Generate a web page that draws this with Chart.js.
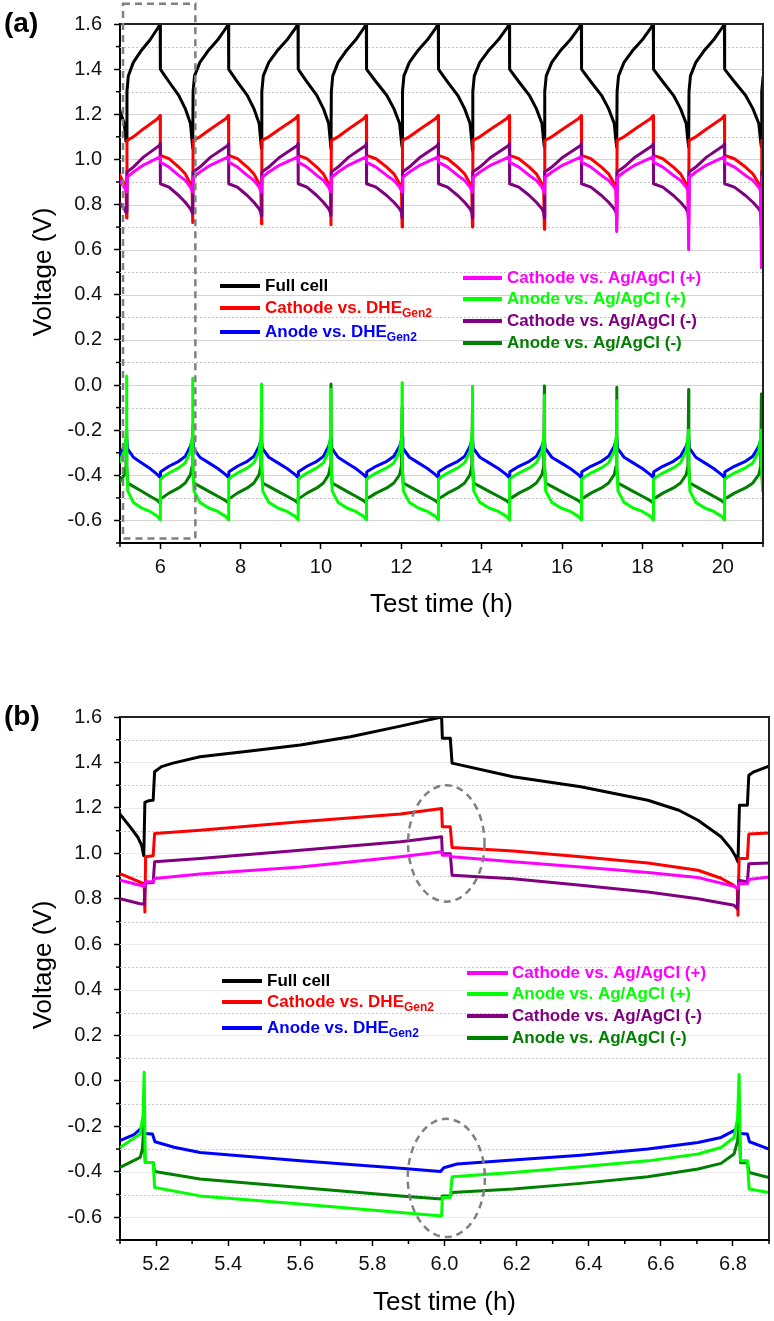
<!DOCTYPE html>
<html>
<head>
<meta charset="utf-8">
<script src="https://cdn.jsdelivr.net/npm/chart.js@4.4.0/dist/chart.umd.min.js"></script>
<style>
  html, body { margin: 0; padding: 0; background: #fff; }
  .panel { position: relative; width: 774px; }
  #wrapA { height: 640px; }
  #wrapB { height: 681px; }
</style>
</head>
<body>
<div class="panel" id="wrapA"><canvas id="chartA" width="774" height="640"></canvas></div>
<div class="panel" id="wrapB"><canvas id="chartB" width="774" height="681"></canvas></div>
<script>
const FONT = '"Liberation Sans", Arial, sans-serif';

const seriesNames = ['Full cell', 'Cathode vs. DHE', 'Anode vs. DHE', 'Cathode vs. Ag/AgCl (+)',
  'Anode vs. Ag/AgCl (+)', 'Cathode vs. Ag/AgCl (-)', 'Anode vs. Ag/AgCl (-)'];
const seriesSub = ['', 'Gen2', 'Gen2', '', '', '', ''];
const seriesColors = ['#000000', '#ff0000', '#0000ff', '#ff00ff', '#00ff00', '#800080', '#008000'];
const drawOrder = [7, 5, 6, 3, 1, 4, 2]; // light green drawn on top

// tick labels
const yTicks = [-0.6, -0.4, -0.2, 0.0, 0.2, 0.4, 0.6, 0.8, 1.0, 1.2, 1.4, 1.6];
const xTicksA = [6, 8, 10, 12, 14, 16, 18, 20];
const xTicksB = [5.2, 5.4, 5.6, 5.8, 6.0, 6.2, 6.4, 6.6, 6.8];

// ---- panel (a): cycling, read per cycle ----
// start of each discharge (h), first one is before the axis, last one after it
const dischargeStart = [4.35, 6.0, 7.7, 9.43, 11.13, 12.92, 14.69, 16.48, 18.27, 20.04, 21.85];
// start of each charge (h)
const chargeStart = [5.165, 6.81, 8.52, 10.25, 12.02, 13.77, 15.56, 17.36, 19.15, 20.96];

// shape of one charge / discharge: [fraction of step, V]
const fullCharge = [[0.01, 1.30], [0.05, 1.37], [0.2, 1.43], [0.45, 1.485], [0.7, 1.53], [0.92, 1.58], [1, 1.6]];
const fullDis = [[0.006, 1.40], [0.05, 1.39], [0.27, 1.344], [0.57, 1.284], [0.77, 1.225], [0.93, 1.159], [0.98, 1.08]];
const fullTurn = [1.08, 1.05, 1.048, 1.048, 1.055, 1.04, 1.055, 1.055, 1.055, 1.055];

const redCharge = [[0.01, 1.084], [0.2, 1.10], [0.5, 1.135], [0.92, 1.18], [1, 1.195]];
const redDis = [[0.006, 1.018], [0.27, 1.003], [0.57, 0.966], [0.77, 0.936], [0.93, 0.892], [0.98, 0.877]];
const redTurn = [0.74, 0.72, 0.715, 0.71, 0.70, 0.70, 0.69, 0.69, 0.69, 0.69];

const blueCharge = [[0.02, -0.28], [0.2, -0.32], [0.45, -0.345], [0.7, -0.37], [0.92, -0.397], [1, -0.41]];
const blueDis = [[0.01, -0.385], [0.06, -0.38], [0.27, -0.36], [0.57, -0.338], [0.77, -0.316], [0.93, -0.271], [0.98, -0.245]];
const blueTurn = [-0.235, -0.235, -0.235, -0.235, -0.23, -0.23, -0.23, -0.23, -0.23, -0.23];

const pinkCharge = [[0.02, 0.921], [0.2, 0.944], [0.5, 0.975], [0.98, 1.01], [1, 1.01]];
const pinkDis = [[0.006, 0.988], [0.27, 0.966], [0.57, 0.929], [0.77, 0.907], [0.93, 0.877], [0.98, 0.86]];
const pinkTurn = [0.855, 0.855, 0.855, 0.855, 0.855, 0.855, 0.85, 0.68, 0.60, 0.52];

const lgCharge = [[0.005, -0.36], [0.035, -0.47], [0.2, -0.52], [0.45, -0.545], [0.7, -0.56], [0.92, -0.582], [1, -0.597]];
const lgDis = [[0.005, -0.42], [0.06, -0.41], [0.27, -0.39], [0.57, -0.367], [0.77, -0.345], [0.93, -0.293], [0.98, -0.234], [0.995, -0.2]];
const lgTurn = [0.04, 0.03, 0.005, -0.02, 0.01, -0.005, -0.045, -0.07, -0.20, -0.24];

const purpleCharge = [[0.01, 0.944], [0.2, 0.966], [0.5, 1.01], [0.98, 1.062], [1, 1.07]];
const purpleDis = [[0.006, 0.892], [0.27, 0.877], [0.57, 0.84], [0.77, 0.81], [0.93, 0.781], [0.98, 0.765]];
const purpleTurn = [0.77, 0.76, 0.75, 0.75, 0.74, 0.74, 0.74, 0.74, 0.73, 0.70];

const dgCharge = [[0.005, -0.36], [0.03, -0.434], [0.2, -0.449], [0.45, -0.471], [0.7, -0.493], [0.92, -0.512], [1, -0.523]];
const dgDis = [[0.005, -0.501], [0.06, -0.5], [0.27, -0.479], [0.57, -0.456], [0.77, -0.434], [0.93, -0.397], [0.98, -0.36]];
const dgTurn = [-0.2, -0.18, -0.15, 0.005, -0.1, -0.1, -0.004, -0.01, -0.02, -0.04];

// ---- panel (b): one cycle, [h, V] ----
const fullB = [[5.100, 1.173], [5.128, 1.117], [5.150, 1.070], [5.160, 1.035], [5.166, 0.990], [5.169, 1.225], [5.180, 1.232],
  [5.192, 1.234], [5.196, 1.359], [5.215, 1.382], [5.247, 1.397], [5.322, 1.425], [5.461, 1.450], [5.600, 1.477], [5.739, 1.513],
  [5.878, 1.560], [5.992, 1.600], [5.994, 1.507], [6.016, 1.507], [6.021, 1.397], [6.190, 1.337], [6.378, 1.293], [6.564, 1.234],
  [6.650, 1.190], [6.703, 1.146], [6.767, 1.073], [6.795, 1.020], [6.808, 0.985], [6.814, 0.963], [6.818, 1.212], [6.840, 1.212],
  [6.844, 1.344], [6.858, 1.359], [6.900, 1.384]];
const redB = [[5.100, 0.911], [5.156, 0.874], [5.167, 0.866], [5.169, 0.742], [5.171, 0.985], [5.192, 0.990], [5.196, 1.088],
  [5.322, 1.102], [5.600, 1.139], [5.878, 1.173], [5.992, 1.198], [5.994, 1.117], [6.016, 1.117], [6.021, 1.026], [6.190, 1.011],
  [6.378, 0.985], [6.564, 0.958], [6.703, 0.926], [6.767, 0.891], [6.800, 0.862], [6.812, 0.847], [6.814, 0.728], [6.817, 0.978],
  [6.840, 0.978], [6.844, 1.085], [6.900, 1.090]];
const blueB = [[5.100, -0.263], [5.140, -0.235], [5.156, -0.212], [5.164, -0.200], [5.168, -0.232], [5.190, -0.234],
  [5.197, -0.268], [5.250, -0.292], [5.322, -0.315], [5.600, -0.352], [5.878, -0.384], [5.989, -0.399], [5.998, -0.382],
  [6.035, -0.366], [6.190, -0.348], [6.378, -0.327], [6.564, -0.300], [6.703, -0.271], [6.767, -0.249], [6.803, -0.219],
  [6.814, -0.202], [6.820, -0.232], [6.840, -0.234], [6.846, -0.268], [6.900, -0.300]];
const pinkB = [[5.100, 0.882], [5.156, 0.860], [5.167, 0.855], [5.171, 0.875], [5.192, 0.875], [5.196, 0.890], [5.322, 0.910],
  [5.600, 0.940], [5.878, 0.985], [5.992, 1.007], [5.994, 0.992], [6.016, 0.992], [6.021, 0.985], [6.190, 0.963], [6.378, 0.940],
  [6.564, 0.916], [6.703, 0.894], [6.803, 0.855], [6.814, 0.845], [6.817, 0.867], [6.840, 0.867], [6.844, 0.885], [6.900, 0.896]];
const lgB = [[5.100, -0.293], [5.156, -0.234], [5.164, -0.150], [5.167, 0.038], [5.170, -0.359], [5.192, -0.359], [5.196, -0.469],
  [5.322, -0.506], [5.600, -0.542], [5.878, -0.579], [5.992, -0.594], [5.994, -0.513], [6.016, -0.513], [6.021, -0.422],
  [6.190, -0.403], [6.378, -0.378], [6.564, -0.352], [6.703, -0.322], [6.767, -0.293], [6.803, -0.249], [6.813, -0.161],
  [6.817, 0.028], [6.821, -0.352], [6.840, -0.352], [6.845, -0.476], [6.900, -0.491]];
const purpleB = [[5.100, 0.801], [5.156, 0.779], [5.167, 0.778], [5.170, 0.870], [5.192, 0.872], [5.196, 0.963], [5.322, 0.978],
  [5.600, 1.014], [5.878, 1.051], [5.992, 1.073], [5.994, 0.999], [6.016, 0.999], [6.021, 0.904], [6.190, 0.889], [6.378, 0.860],
  [6.564, 0.830], [6.703, 0.801], [6.803, 0.772], [6.812, 0.757], [6.816, 0.882], [6.840, 0.875], [6.844, 0.955], [6.900, 0.958]];
const dgB = [[5.100, -0.381], [5.156, -0.337], [5.162, -0.300], [5.166, -0.205], [5.170, -0.359], [5.192, -0.359], [5.196, -0.399],
  [5.322, -0.432], [5.600, -0.469], [5.878, -0.506], [5.992, -0.520], [5.994, -0.506], [6.016, -0.506], [6.021, -0.491],
  [6.190, -0.476], [6.378, -0.451], [6.564, -0.422], [6.703, -0.388], [6.767, -0.363], [6.803, -0.322], [6.813, -0.263],
  [6.817, -0.175], [6.821, -0.360], [6.840, -0.360], [6.845, -0.403], [6.900, -0.425]];

// marked regions
const zoomBox = { x0: 5.075, x1: 6.875, y0: -0.68, y1: 1.69 };
const ovals = [{ t: 6.005, v: 1.044, rt: 0.106, rv: 0.256 }, { t: 6.005, v: -0.427, rt: 0.107, rv: 0.26 }];

function cycles(charge, dis, turn) {
  const pts = [];
  for (let k = 0; k < chargeStart.length; k++) {
    const ds = dischargeStart[k], cs = chargeStart[k], ce = dischargeStart[k + 1];
    dis.forEach(([f, v]) => pts.push({ x: ds + f * (cs - ds), y: v }));
    pts.push({ x: cs, y: turn[k] });
    charge.forEach(([f, v]) => pts.push({ x: cs + f * (ce - cs), y: v }));
  }
  return pts;
}
const pairs = arr => arr.map(([x, y]) => ({ x, y }));

const dataA = [
  cycles(fullCharge, fullDis, fullTurn), cycles(redCharge, redDis, redTurn), cycles(blueCharge, blueDis, blueTurn),
  cycles(pinkCharge, pinkDis, pinkTurn), cycles(lgCharge, lgDis, lgTurn), cycles(purpleCharge, purpleDis, purpleTurn),
  cycles(dgCharge, dgDis, dgTurn)];
const dataB = [fullB, redB, blueB, pinkB, lgB, purpleB, dgB].map(pairs);

function legendBlock(ctx, idx, x0, x1, tx, rows) {
  idx.forEach((s, i) => {
    const y = rows[i];
    ctx.strokeStyle = seriesColors[s];
    ctx.lineWidth = 4;
    ctx.setLineDash([]);
    ctx.beginPath(); ctx.moveTo(x0, y); ctx.lineTo(x1, y); ctx.stroke();
    ctx.fillStyle = seriesColors[s];
    ctx.font = 'bold 17px ' + FONT;
    ctx.textBaseline = 'middle';
    ctx.textAlign = 'left';
    ctx.fillText(seriesNames[s], tx, y);
    if (seriesSub[s]) {
      const w = ctx.measureText(seriesNames[s]).width;
      ctx.font = 'bold 12px ' + FONT;
      ctx.fillText(seriesSub[s], tx + w, y + 6);
    }
  });
}

const framePlugin = {
  id: 'frame',
  beforeDatasetsDraw(chart, args, o) {
    const { ctx, chartArea: a, scales: { y } } = chart;
    ctx.save();
    for (let i = -6; i < 16; i++) {
      const py = Math.round(y.getPixelForValue(i / 10)) + 0.5;
      const major = i % 2 === 0;
      ctx.strokeStyle = major ? o.majorGrid : o.minorGrid;
      ctx.lineWidth = 1;
      ctx.setLineDash(major ? [] : [2, 2]);
      ctx.beginPath(); ctx.moveTo(a.left, py); ctx.lineTo(a.right, py); ctx.stroke();
    }
    ctx.restore();
  },
  afterDraw(chart, args, o) {
    const { ctx, chartArea: a, scales: { x, y } } = chart;
    ctx.save();
    // top / right frame
    ctx.strokeStyle = '#222';
    ctx.lineWidth = 2;
    ctx.beginPath();
    ctx.moveTo(a.left, a.top); ctx.lineTo(a.right, a.top); ctx.lineTo(a.right, a.bottom);
    ctx.stroke();
    // minor ticks
    ctx.strokeStyle = '#000';
    ctx.lineWidth = 1.5;
    for (let i = -7; i < 16; i += 2) {
      const py = y.getPixelForValue(i / 10);
      ctx.beginPath(); ctx.moveTo(a.left, py); ctx.lineTo(a.left - 4, py); ctx.stroke();
    }
    for (let i = 0; i < o.xMinorCount; i++) {
      const px = x.getPixelForValue(o.xMinorStart + i * o.xMinorStep);
      ctx.beginPath(); ctx.moveTo(px, a.bottom); ctx.lineTo(px, a.bottom + 4); ctx.stroke();
    }
    // marks
    ctx.strokeStyle = '#808080';
    ctx.lineWidth = 2.5;
    ctx.setLineDash([7, 5]);
    if (o.box) {
      const b = o.box;
      const l = x.getPixelForValue(b.x0), r = x.getPixelForValue(b.x1);
      const t = y.getPixelForValue(b.y1), btm = y.getPixelForValue(b.y0);
      ctx.strokeRect(l, t, r - l, btm - t);
    }
    (o.ovals || []).forEach(e => {
      const cx = x.getPixelForValue(e.t), cy = y.getPixelForValue(e.v);
      const rx = Math.abs(x.getPixelForValue(e.t + e.rt) - cx);
      const ry = Math.abs(y.getPixelForValue(e.v + e.rv) - cy);
      ctx.beginPath(); ctx.ellipse(cx, cy, rx, ry, 0, 0, Math.PI * 2); ctx.stroke();
    });
    ctx.setLineDash([]);
    // legend
    const L = o.legend;
    legendBlock(ctx, [0, 1, 2], L.lx0, L.lx1, L.ltx, L.lrows);
    legendBlock(ctx, [3, 4, 5, 6], L.rx0, L.rx1, L.rtx, L.rrows);
    // titles
    ctx.fillStyle = '#000';
    ctx.font = '26px ' + FONT;
    ctx.textAlign = 'center';
    ctx.textBaseline = 'middle';
    ctx.fillText('Test time (h)', (a.left + a.right) / 2, o.xTitleY);
    ctx.save();
    ctx.translate(44, a.top + 248);
    ctx.rotate(-Math.PI / 2);
    ctx.fillText('Voltage (V)', 0, 0);
    ctx.restore();
    ctx.font = 'bold 28px ' + FONT;
    ctx.textAlign = 'left';
    ctx.fillText(o.label, 4, a.top);
    ctx.restore();
  }
};

function makeChart(id, data, lineWidth, xMin, xMax, xTicks, pad, xHeight, frame) {
  return new Chart(document.getElementById(id), {
    type: 'scatter',
    data: {
      datasets: data.map((d, i) => ({
        label: seriesNames[i],
        data: d,
        showLine: true,
        borderColor: seriesColors[i],
        backgroundColor: seriesColors[i],
        borderWidth: lineWidth,
        borderJoinStyle: 'round',
        pointRadius: 0,
        order: drawOrder[i]
      }))
    },
    options: {
      responsive: false,
      devicePixelRatio: 1,
      animation: false,
      layout: { padding: pad },
      plugins: { legend: { display: false }, tooltip: { enabled: false }, frame },
      scales: {
        x: {
          type: 'linear', min: xMin, max: xMax,
          afterBuildTicks: s => { s.ticks = xTicks.map(v => ({ value: v })); },
          afterFit: s => { s.height = xHeight; },
          ticks: { color: '#111', font: { family: FONT, size: 20 }, padding: 6, maxRotation: 0,
            callback: v => xMax > 10 ? String(v) : v.toFixed(1) },
          grid: { drawOnChartArea: false, tickLength: 6, tickWidth: 1.5, tickColor: '#000' },
          border: { color: '#000', width: 2 }
        },
        y: {
          type: 'linear', min: -0.7, max: 1.6,
          afterBuildTicks: s => { s.ticks = yTicks.map(v => ({ value: v })); },
          afterFit: s => { s.width = 120; },
          ticks: { color: '#111', font: { family: FONT, size: 20 }, padding: 12, callback: v => v.toFixed(1) },
          grid: { drawOnChartArea: false, tickLength: 6, tickWidth: 1.5, tickColor: '#000' },
          border: { color: '#000', width: 2 }
        }
      }
    },
    plugins: [framePlugin]
  });
}

makeChart('chartA', dataA, 3, 5, 21, xTicksA, { left: 0, top: 24, right: 11, bottom: 0 }, 97, {
  majorGrid: '#d4d4d4', minorGrid: '#c4c4c4', label: '(a)', xTitleY: 605,
  xMinorStart: 5, xMinorStep: 2, xMinorCount: 9, box: zoomBox,
  legend: { lx0: 220, lx1: 260, ltx: 265, lrows: [286, 308, 332], rx0: 463, rx1: 502, rtx: 507, rrows: [278, 299, 321, 343] }
});

makeChart('chartB', dataB, 3, 5.1, 6.9, xTicksB, { left: 0, top: 77, right: 5, bottom: 0 }, 81, {
  majorGrid: '#ececec', minorGrid: '#c8c8c8', label: '(b)', xTitleY: 663,
  xMinorStart: 5.1, xMinorStep: 0.2, xMinorCount: 10, ovals,
  legend: { lx0: 222, lx1: 262, ltx: 267, lrows: [341, 362, 388], rx0: 467, rx1: 508, rtx: 512, rrows: [333, 354, 376, 398] }
});
</script>
</body>
</html>
